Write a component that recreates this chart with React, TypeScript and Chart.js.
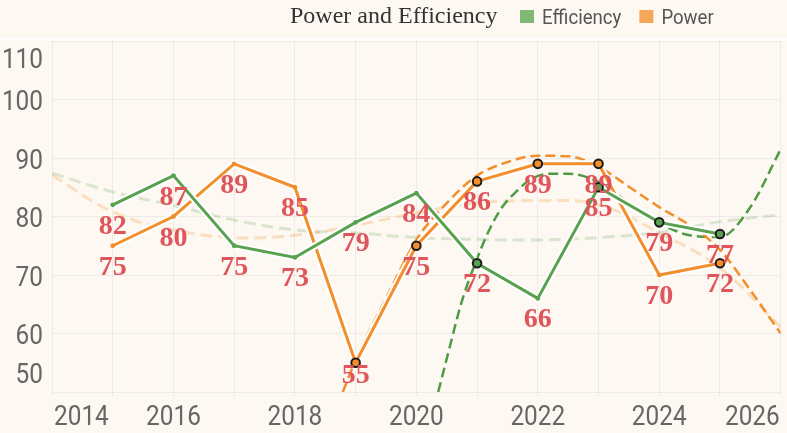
import { useEffect, useRef } from "react";
import { Chart, registerables } from "chart.js";

Chart.register(...registerables);

const title = "Power and Efficiency";
const seriesNames = ["Efficiency", "Power"];

const years = [2015, 2016, 2017, 2018, 2019, 2020, 2021, 2022, 2023, 2024, 2025];
const efficiency = [82, 87, 75, 73, 79, 84, 72, 66, 85, 79, 77];
const power = [75, 80, 89, 85, 55, 75, 86, 89, 89, 70, 72];

// years drawn with the big outlined marker
const efficiencyMarked = [2021, 2023, 2024, 2025];
const powerMarked = [2019, 2020, 2021, 2022, 2023, 2025];

// faint long-range trend curves
const trendYears = [2014, 2015, 2016, 2017, 2018, 2019, 2020, 2021, 2022, 2023, 2024, 2025, 2026];
const efficiencyTrendAll = [87.4, 84.2, 81.9, 79.4, 77.7, 77.2, 76.4, 76.1, 76.0, 76.4, 77.3, 79.1, 80.3];
const powerTrendAll = [87.1, 80.8, 77.7, 76.4, 76.8, 78.5, 80.6, 82.3, 82.7, 82.0, 77.2, 71.2, 61.1];

// strong short-range trend curves
const efficiencyTrendX = [2020.36, 2020.55, 2020.74, 2020.93, 2021.2, 2021.42, 2021.64, 2021.86, 2022.18, 2022.5, 2023, 2023.5, 2024, 2024.5, 2025, 2025.5, 2026];
const efficiencyTrendY = [50, 57.7, 65.2, 70.9, 77.7, 81.7, 84.2, 86.2, 87.3, 87.3, 85.9, 82.3, 78.9, 76.8, 76.5, 81.6, 91.5];
const powerTrendX = [2018.79, 2019, 2019.5, 2020, 2020.5, 2021, 2021.5, 2022, 2022.5, 2023, 2023.5, 2024, 2024.5, 2025, 2025.5, 2026];
const powerTrendY = [50, 55.5, 66, 76, 82.3, 87, 89.3, 90.4, 90.3, 88.5, 85.1, 81.6, 78.5, 74.3, 67.4, 60];

const xMin = 2014;
const xMax = 2026;
const yMin = 50;
const yMax = 110;

const BG = "#FDF9F2";
const GREEN = "#59A14F";
const ORANGE = "#F28E2B";
const LEGEND_COLORS = ["#80B875", "#F6A75A"];
const LABEL_RED = "#E0555B";
const GRID = "rgba(205,210,220,0.35)";
const SANS = "Roboto, sans-serif";
const SERIF = '"Liberation Serif", "Times New Roman", serif';

const pts = (xs: number[], ys: number[]) => xs.map((x, i) => ({ x, y: ys[i] }));

// the reference uses a condensed face, so squeeze the text a little
function narrowText(ctx: any, text: string, x: number, y: number, align: string, sx: number) {
  const w = ctx.measureText(text).width * sx;
  const left = align === "left" ? x : align === "right" ? x - w : x - w / 2;
  ctx.save();
  ctx.translate(left, y);
  ctx.scale(sx, 1);
  ctx.textAlign = "left";
  ctx.fillText(text, 0, 0);
  ctx.restore();
  return w;
}

const chromePlugin = {
  id: "chrome",
  beforeDraw(chart: any) {
    const { ctx, width, height } = chart;
    ctx.save();
    ctx.fillStyle = BG;
    ctx.fillRect(0, 0, width, height);
    ctx.fillStyle = "#FFFFFF";
    ctx.fillRect(0, 38, width, 2.5);

    ctx.textBaseline = "alphabetic";
    ctx.textAlign = "left";
    ctx.fillStyle = "#333333";
    ctx.font = `24px ${SERIF}`;
    ctx.fillText(title, 290, 23);

    ctx.font = `20px ${SANS}`;
    let x = 520;
    seriesNames.forEach((name, i) => {
      ctx.fillStyle = LEGEND_COLORS[i];
      ctx.fillRect(x, 10, 14, 13);
      ctx.fillStyle = "#555555";
      const w = narrowText(ctx, name, x + 22, 24, "left", 0.93);
      x += 22 + w + 18;
    });
    ctx.restore();
  },
  afterDatasetsDraw(chart: any) {
    const { ctx, scales, chartArea } = chart;
    ctx.save();
    ctx.font = `bold 28px ${SERIF}`;
    ctx.fillStyle = LABEL_RED;
    ctx.textAlign = "center";
    ctx.textBaseline = "alphabetic";
    [efficiency, power].forEach((vals) => {
      vals.forEach((v, i) => {
        const px = scales.x.getPixelForValue(years[i]);
        const py = scales.y.getPixelForValue(v);
        const base = Math.min(py + 29, chartArea.bottom - 9);
        ctx.fillText(String(v), px, base);
      });
    });
    ctx.restore();
  },
  afterDraw(chart: any) {
    const { ctx, scales, chartArea } = chart;
    ctx.save();
    ctx.font = `28px ${SANS}`;
    ctx.fillStyle = "#666666";
    ctx.textBaseline = "alphabetic";
    scales.y.ticks.forEach((t: any) => {
      const py = scales.y.getPixelForValue(t.value);
      const base = Math.max(chartArea.top + 27, Math.min(py + 10.5, chartArea.bottom - 9));
      narrowText(ctx, String(t.value), 43, base, "right", 0.87);
    });
    const xt = scales.x.ticks.filter((t: any) => t.value % 2 === 0);
    xt.forEach((t: any, i: number) => {
      const px = scales.x.getPixelForValue(t.value);
      let align = "center";
      let x = px;
      if (i === 0) {
        align = "left";
        x = chartArea.left + 2;
      } else if (i === xt.length - 1) {
        align = "right";
        x = chartArea.right - 1;
      }
      narrowText(ctx, String(t.value), x, 425, align, 0.87);
    });
    ctx.restore();
  },
};

export default function App() {
  const canvasRef = useRef<HTMLCanvasElement>(null);

  useEffect(() => {
    const marked = (list: number[]) => (c: any) => list.includes(c.raw?.x);
    const chart = new Chart(canvasRef.current!.getContext("2d")!, {
      type: "line",
      data: {
        datasets: [
          {
            data: pts(trendYears, efficiencyTrendAll),
            borderColor: "rgba(89,161,79,0.22)",
            borderWidth: 3,
            borderDash: [12, 6],
            pointRadius: 0,
            tension: 0.4,
            order: 12,
          },
          {
            data: pts(trendYears, powerTrendAll),
            borderColor: "rgba(242,142,43,0.25)",
            borderWidth: 3,
            borderDash: [12, 6],
            pointRadius: 0,
            tension: 0.4,
            order: 11,
          },
          {
            data: pts(efficiencyTrendX, efficiencyTrendY),
            borderColor: "#4E9A45",
            borderWidth: 2.5,
            borderDash: [10, 5],
            pointRadius: 0,
            cubicInterpolationMode: "monotone",
            order: 10,
          },
          {
            data: pts(powerTrendX, powerTrendY),
            borderColor: ORANGE,
            borderWidth: 2.5,
            borderDash: [10, 5],
            pointRadius: 0,
            cubicInterpolationMode: "monotone",
            order: 9,
          },
          {
            data: pts(years, power),
            borderColor: "#FFFFFF",
            borderWidth: 7,
            pointRadius: 0,
            order: 8,
          },
          {
            data: pts(years, power),
            borderColor: ORANGE,
            borderWidth: 3,
            pointRadius: 0,
            order: 7,
          },
          {
            data: pts(years, efficiency),
            borderColor: "#FFFFFF",
            borderWidth: 7,
            pointRadius: 0,
            order: 6,
          },
          {
            data: pts(years, efficiency),
            borderColor: GREEN,
            borderWidth: 3,
            pointRadius: 0,
            order: 5,
          },
          {
            data: pts(years, power),
            showLine: false,
            pointBackgroundColor: ORANGE,
            pointBorderColor: "#1A1A1A",
            pointRadius: (c: any) => (marked(powerMarked)(c) ? 4.3 : 2.4),
            pointBorderWidth: (c: any) => (marked(powerMarked)(c) ? 2 : 0),
            order: 4,
          },
          {
            data: pts(years, efficiency),
            showLine: false,
            pointBackgroundColor: GREEN,
            pointBorderColor: "#1A1A1A",
            pointRadius: (c: any) => (marked(efficiencyMarked)(c) ? 4.3 : 2.4),
            pointBorderWidth: (c: any) => (marked(efficiencyMarked)(c) ? 2 : 0),
            order: 3,
          },
        ],
      },
      options: {
        animation: false,
        responsive: true,
        maintainAspectRatio: false,
        events: [],
        layout: { padding: { top: 41, left: 0, right: 0, bottom: 0 } },
        plugins: {
          legend: { display: false },
          tooltip: { enabled: false },
          title: { display: false },
        },
        scales: {
          x: {
            type: "linear",
            min: xMin,
            max: xMax,
            border: { display: false },
            grid: { color: GRID, lineWidth: 1, tickLength: 4, tickColor: GRID },
            ticks: { stepSize: 1, autoSkip: false, maxRotation: 0, display: false },
            afterFit: (s: any) => {
              s.height = 41;
            },
          },
          y: {
            type: "linear",
            min: yMin,
            max: yMax,
            border: { display: false },
            grid: { color: GRID, lineWidth: 1, drawTicks: false },
            ticks: { stepSize: 10, display: false },
            afterFit: (s: any) => {
              s.width = 52;
            },
          },
        },
      },
      plugins: [chromePlugin],
    });
    return () => chart.destroy();
  }, []);

  return (
    <div style={{ position: "absolute", left: 0, top: 0, width: 787, height: 433, background: BG }}>
      <canvas ref={canvasRef} />
    </div>
  );
}
